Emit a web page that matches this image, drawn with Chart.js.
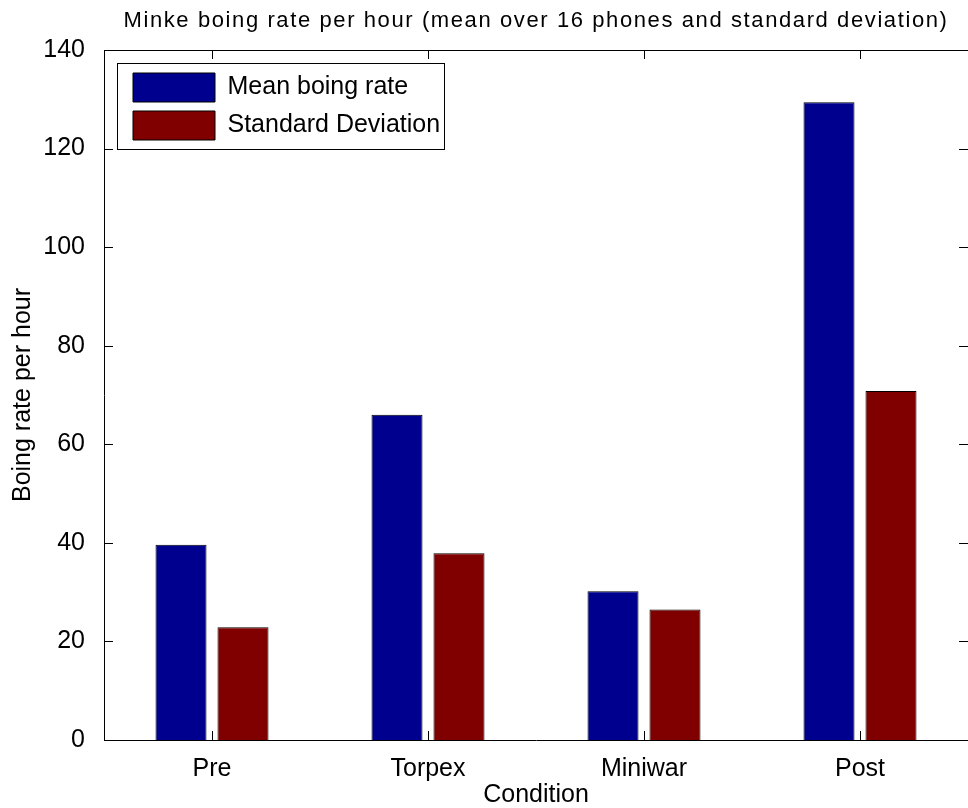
<!DOCTYPE html>
<html>
<head>
<meta charset="utf-8">
<title>Minke boing rate per hour</title>
<script src="https://cdn.jsdelivr.net/npm/chart.js@4.4.1/dist/chart.umd.min.js"></script>
<style>
  html, body { margin: 0; padding: 0; background: #fff; }
  #wrap { width: 968px; height: 808px; }
  canvas { display: block; }
</style>
</head>
<body>
<div id="wrap"><canvas id="chart" width="968" height="808"></canvas></div>
<script>
// Conditions and per-condition statistics
const categories = ['Pre', 'Torpex', 'Miniwar', 'Post'];
const meanRate = [39.6, 66.0, 30.2, 129.4];
const stdDev = [22.9, 37.9, 26.5, 70.8];
const yTickValues = [0, 20, 40, 60, 80, 100, 120, 140];

const FONT = '"Liberation Sans", Arial, sans-serif';
Chart.defaults.font.family = FONT;
Chart.defaults.color = '#000';

const TICK_LEN = 9;

// Inward tick marks on all four sides plus the top edge of the axes box
const boxTicks = {
  id: 'boxTicks',
  afterDatasetsDraw(chart) {
    const { ctx, chartArea: a, scales: { x, y } } = chart;
    ctx.save();
    ctx.strokeStyle = '#000';
    ctx.lineWidth = 1;
    ctx.beginPath();
    const top = Math.round(a.top) + 0.5;
    ctx.moveTo(a.left, top);
    ctx.lineTo(a.right, top);
    y.ticks.forEach(t => {
      const py = Math.round(y.getPixelForValue(t.value)) + 0.5;
      ctx.moveTo(a.left, py); ctx.lineTo(a.left + TICK_LEN, py);
      ctx.moveTo(a.right - TICK_LEN, py); ctx.lineTo(a.right, py);
    });
    categories.forEach((c, i) => {
      const px = Math.round(x.getPixelForValue(i)) + 0.5;
      ctx.moveTo(px, a.bottom); ctx.lineTo(px, a.bottom - TICK_LEN);
      ctx.moveTo(px, a.top); ctx.lineTo(px, a.top + TICK_LEN);
    });
    ctx.stroke();
    ctx.restore();
  }
};

// Legend sits inside the axes, top-left, in a framed white box
const LEG_PAD = 9;
const legendInset = {
  id: 'legendInset',
  afterLayout(chart) {
    const lg = chart.legend;
    const a = chart.chartArea;
    if (!lg) return;
    lg.left = a.left + 20;
    lg.top = a.top + 14;
    lg.right = a.right;
    lg.bottom = a.bottom;
    lg.width = lg.right - lg.left;
    lg.height = lg.bottom - lg.top;
  },
  beforeDraw(chart) {
    const lg = chart.legend;
    if (!lg) return;
    const { ctx } = chart;
    const lab = chart.options.plugins.legend.labels;
    const fs = lab.font.size;
    ctx.save();
    ctx.font = fs + 'px ' + FONT;
    let maxW = 0;
    chart.data.datasets.forEach(d => { maxW = Math.max(maxW, ctx.measureText(d.label).width); });
    const x0 = lg.left + LEG_PAD;
    const y0 = lg.top + LEG_PAD;
    const n = chart.data.datasets.length;
    const left = Math.round(x0 - 16) + 0.5;
    const topY = Math.round(y0 - 10) + 0.5;
    const right = Math.round(x0 + lab.boxWidth + fs / 2 + maxW + 4) + 0.5;
    const bottom = Math.round(y0 + n * lab.boxHeight + (n - 1) * LEG_PAD + 9) + 0.5;
    ctx.fillStyle = '#fff';
    ctx.fillRect(left, topY, right - left, bottom - topY);
    ctx.strokeStyle = '#000';
    ctx.lineWidth = 1;
    ctx.strokeRect(left, topY, right - left, bottom - topY);
    ctx.restore();
  }
};

// Title drawn with a little extra tracking
const trackedTitle = {
  id: 'trackedTitle',
  afterLayout(chart) {
    const t = chart.titleBlock;
    if (t && !t._tracked) {
      const orig = t.draw.bind(t);
      t.draw = function (area) {
        const ctx = this.ctx;
        ctx.save();
        ctx.letterSpacing = '1.6px';
        orig(area);
        ctx.restore();
      };
      t._tracked = true;
    }
  }
};

new Chart(document.getElementById('chart'), {
  type: 'bar',
  data: {
    labels: categories,
    datasets: [
      {
        label: 'Mean boing rate',
        data: meanRate,
        backgroundColor: '#00008F',
        borderColor: '#000',
        borderWidth: 1,
        categoryPercentage: 0.574,
        barPercentage: 0.823
      },
      {
        label: 'Standard Deviation',
        data: stdDev,
        backgroundColor: '#800000',
        borderColor: '#000',
        borderWidth: 1,
        categoryPercentage: 0.574,
        barPercentage: 0.823
      }
    ]
  },
  options: {
    responsive: false,
    animation: false,
    devicePixelRatio: 1,
    layout: { padding: { left: 0, right: 0, top: 0, bottom: 0 } },
    plugins: {
      title: {
        display: true,
        text: 'Minke boing rate per hour (mean over 16 phones and standard deviation)',
        fullSize: false,
        color: '#000',
        font: { size: 22, weight: 'normal', family: FONT, lineHeight: 1.2 },
        padding: { top: 7.3, bottom: 16.3 }
      },
      legend: {
        display: true,
        position: 'chartArea',
        align: 'start',
        labels: {
          boxWidth: 82,
          boxHeight: 29,
          padding: LEG_PAD,
          color: '#000',
          font: { size: 25, family: FONT }
        }
      },
      tooltip: { enabled: false }
    },
    scales: {
      x: {
        offset: true,
        grid: { display: false },
        border: { display: true, color: '#000', width: 1 },
        ticks: { padding: 6, font: { size: 25 }, color: '#000' },
        title: {
          display: true,
          text: 'Condition',
          color: '#000',
          font: { size: 25, lineHeight: 1 },
          padding: { top: 0, bottom: 0 }
        },
        afterFit(scale) { scale.height = 68; }
      },
      y: {
        min: 0,
        max: 140,
        grid: { display: false },
        border: { display: true, color: '#000', width: 1 },
        afterBuildTicks(scale) { scale.ticks = yTickValues.map(v => ({ value: v })); },
        ticks: { padding: 11, font: { size: 25 }, color: '#000' },
        title: {
          display: true,
          text: 'Boing rate per hour',
          color: '#000',
          font: { size: 25, lineHeight: 1 },
          padding: { top: 11, bottom: 0 }
        },
        afterFit(scale) { scale.width = 104; }
      }
    }
  },
  plugins: [trackedTitle, legendInset, boxTicks]
});
</script>
</body>
</html>
